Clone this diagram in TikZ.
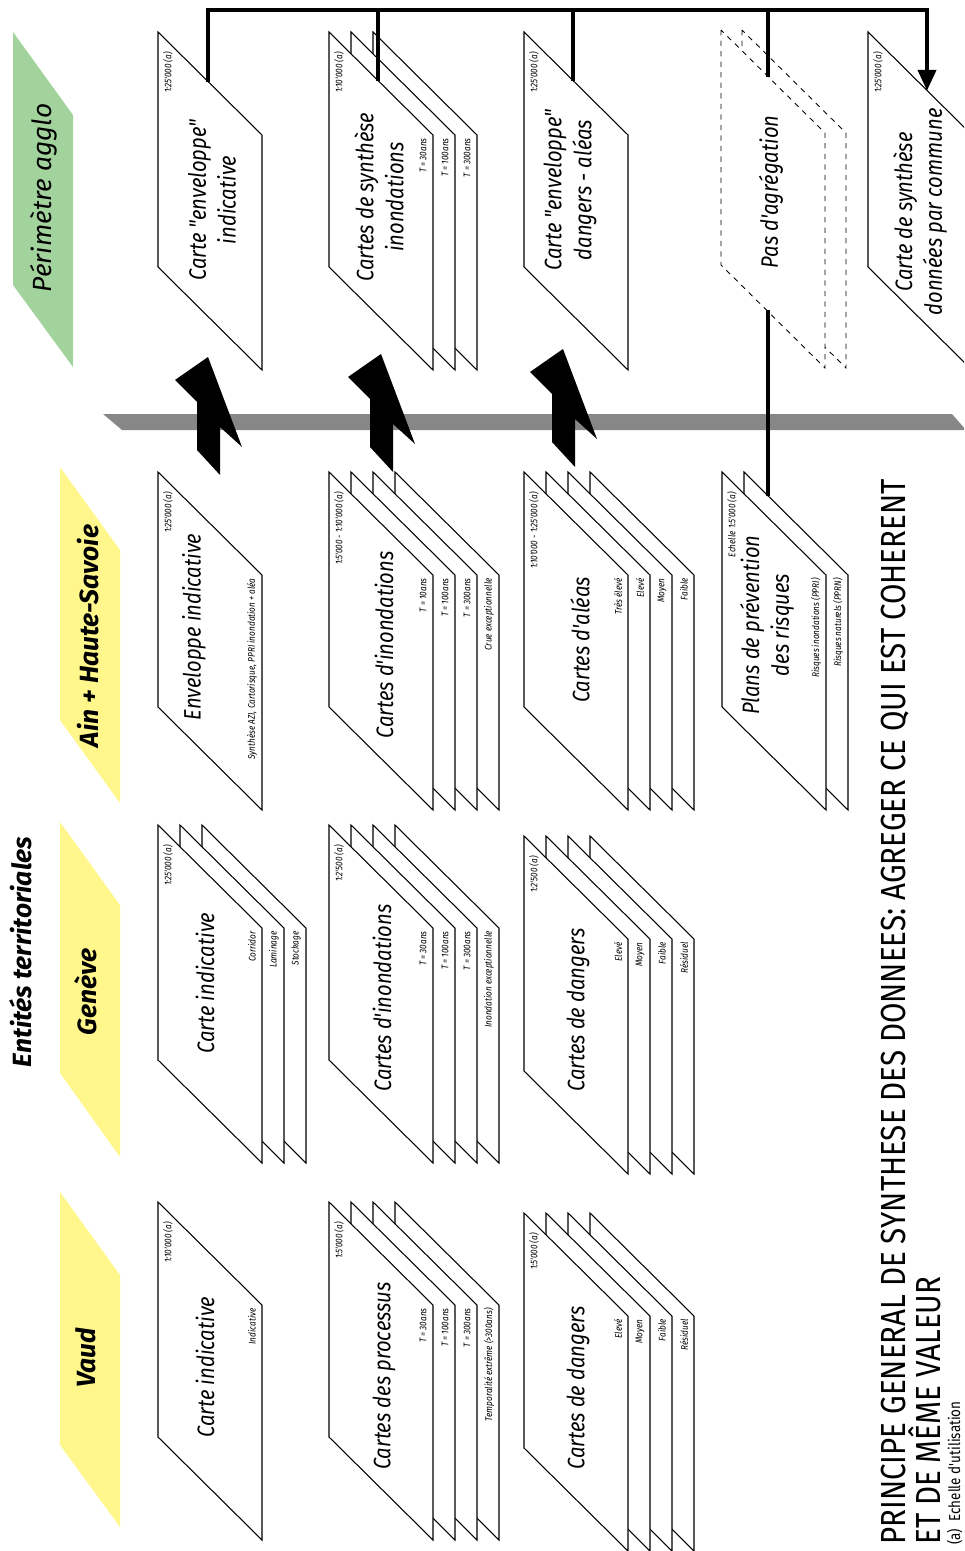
\documentclass[tikz,border=0pt]{standalone}
\usepackage{fontspec}
\setmainfont{Fira Sans}
\newfontfamily\etroit[FakeStretch=0.85]{Fira Sans}
\usetikzlibrary{arrows.meta}
\definecolor{jaune}{RGB}{255,247,140}
\definecolor{vert}{RGB}{163,211,156}
\definecolor{grisbande}{RGB}{135,135,135}

\begin{document}
\begin{tikzpicture}[x=0.02cm,y=-0.02cm,
        carte/.style={draw=black,fill=white,line width=0.6pt},
        cartepas/.style={draw=black,fill=white,line width=0.5pt,dashed},
        lien/.style={draw=black,line width=2.8pt},
        fleche/.style={fill=black,draw=none},
        titre/.style={rotate=90,align=center,inner sep=0pt,font=\etroit\itshape\fontsize{13.5}{17}\selectfont},
        echelle/.style={rotate=90,anchor=east,inner sep=0pt,font=\etroit\itshape\fontsize{5.5}{6}\selectfont},
        legende/.style={rotate=90,anchor=east,inner sep=0pt,font=\etroit\itshape\fontsize{5.5}{6}\selectfont},
        entete/.style={rotate=90,inner sep=0pt,font=\bfseries\itshape\fontsize{15}{18}\selectfont}]
        \useasboundingbox (0,0) rectangle (964,1551);
        \clip (0,0) rectangle (964,1551);

        % bandeaux
        \fill[vert] (13,32) -- (13,285) -- (73,367) -- (73,115) -- cycle;
        \fill[jaune] (60,467) -- (60,720) -- (120,803) -- (120,550) -- cycle;
        \fill[jaune] (60,822) -- (60,1073) -- (120,1157) -- (120,905) -- cycle;
        \fill[jaune] (60,1192) -- (60,1445) -- (120,1527) -- (120,1275) -- cycle;
        \node[entete,font=\itshape\fontsize{15}{18}\selectfont] (perim) at (44,198) {Périmètre agglo};
        \node[entete] (ain) at (88,636) {Ain + Haute-Savoie};
        \node[entete] (geneve) at (86,992) {Genève};
        \node[entete] (vaud) at (86,1358) {Vaud};
        \node[entete] (entites) at (21,952) {Entités territoriales};

        % perimetre agglo
        \draw[carte] (158,32) -- ++(0,235) -- ++(104,103) -- ++(0,-235) -- cycle;
        \draw[carte] (373,32) -- ++(0,235) -- ++(104,103) -- ++(0,-235) -- cycle;
        \draw[carte] (351,32) -- ++(0,235) -- ++(104,103) -- ++(0,-235) -- cycle;
        \draw[carte] (329,32) -- ++(0,235) -- ++(104,103) -- ++(0,-235) -- cycle;
        \draw[carte] (524,32) -- ++(0,235) -- ++(104,103) -- ++(0,-235) -- cycle;
        \draw[cartepas] (742,30) -- ++(0,235) -- ++(104,103) -- ++(0,-235) -- cycle;
        \draw[cartepas] (721,30) -- ++(0,235) -- ++(104,103) -- ++(0,-235) -- cycle;
        \draw[carte] (868,32) -- ++(0,235) -- ++(104,103) -- ++(0,-235) -- cycle;

        % ain + haute-savoie
        \draw[carte] (158,472) -- ++(0,235) -- ++(104,103) -- ++(0,-235) -- cycle;
        \draw[carte] (395,472) -- ++(0,235) -- ++(104,103) -- ++(0,-235) -- cycle;
        \draw[carte] (373,472) -- ++(0,235) -- ++(104,103) -- ++(0,-235) -- cycle;
        \draw[carte] (351,472) -- ++(0,235) -- ++(104,103) -- ++(0,-235) -- cycle;
        \draw[carte] (329,472) -- ++(0,235) -- ++(104,103) -- ++(0,-235) -- cycle;
        \draw[carte] (590,472) -- ++(0,235) -- ++(104,103) -- ++(0,-235) -- cycle;
        \draw[carte] (568,472) -- ++(0,235) -- ++(104,103) -- ++(0,-235) -- cycle;
        \draw[carte] (546,472) -- ++(0,235) -- ++(104,103) -- ++(0,-235) -- cycle;
        \draw[carte] (524,472) -- ++(0,235) -- ++(104,103) -- ++(0,-235) -- cycle;
        \draw[carte] (744,472) -- ++(0,235) -- ++(104,103) -- ++(0,-235) -- cycle;
        \draw[carte] (722,472) -- ++(0,235) -- ++(104,103) -- ++(0,-235) -- cycle;

        % geneve
        \draw[carte] (202,825) -- ++(0,235) -- ++(104,103) -- ++(0,-235) -- cycle;
        \draw[carte] (180,825) -- ++(0,235) -- ++(104,103) -- ++(0,-235) -- cycle;
        \draw[carte] (158,825) -- ++(0,235) -- ++(104,103) -- ++(0,-235) -- cycle;
        \draw[carte] (395,825) -- ++(0,235) -- ++(104,103) -- ++(0,-235) -- cycle;
        \draw[carte] (373,825) -- ++(0,235) -- ++(104,103) -- ++(0,-235) -- cycle;
        \draw[carte] (351,825) -- ++(0,235) -- ++(104,103) -- ++(0,-235) -- cycle;
        \draw[carte] (329,825) -- ++(0,235) -- ++(104,103) -- ++(0,-235) -- cycle;
        \draw[carte] (590,836) -- ++(0,235) -- ++(104,103) -- ++(0,-235) -- cycle;
        \draw[carte] (568,836) -- ++(0,235) -- ++(104,103) -- ++(0,-235) -- cycle;
        \draw[carte] (546,836) -- ++(0,235) -- ++(104,103) -- ++(0,-235) -- cycle;
        \draw[carte] (524,836) -- ++(0,235) -- ++(104,103) -- ++(0,-235) -- cycle;

        % vaud
        \draw[carte] (158,1202) -- ++(0,235) -- ++(104,103) -- ++(0,-235) -- cycle;
        \draw[carte] (395,1202) -- ++(0,235) -- ++(104,103) -- ++(0,-235) -- cycle;
        \draw[carte] (373,1202) -- ++(0,235) -- ++(104,103) -- ++(0,-235) -- cycle;
        \draw[carte] (351,1202) -- ++(0,235) -- ++(104,103) -- ++(0,-235) -- cycle;
        \draw[carte] (329,1202) -- ++(0,235) -- ++(104,103) -- ++(0,-235) -- cycle;
        \draw[carte] (590,1213) -- ++(0,235) -- ++(104,103) -- ++(0,-235) -- cycle;
        \draw[carte] (568,1213) -- ++(0,235) -- ++(104,103) -- ++(0,-235) -- cycle;
        \draw[carte] (546,1213) -- ++(0,235) -- ++(104,103) -- ++(0,-235) -- cycle;
        \draw[carte] (524,1213) -- ++(0,235) -- ++(104,103) -- ++(0,-235) -- cycle;

        % titres des cartes
        \node[titre] (p1) at (212,200) {Carte "enveloppe"\\indicative};
        \node[titre] (p2) at (379,197) {Cartes de synthèse\\inondations};
        \node[titre] (p3) at (570,190) {Carte "enveloppe"\\dangers - aléas};
        \node[titre] (p4) at (771,192) {Pas d'agrégation};
        \node[titre] (p5) at (920,212) {Carte de synthèse\\données par commune};
        \node[titre] (a1) at (194,627) {Enveloppe indicative};
        \node[titre] (a2) at (384,645) {Cartes d'inondations};
        \node[titre] (a3) at (580,640) {Cartes d'aléas};
        \node[titre] (a4) at (767,625) {Plans de prévention\\des risques};
        \node[titre] (g1) at (205,983) {Carte indicative};
        \node[titre] (g2) at (382,998) {Cartes d'inondations};
        \node[titre] (g3) at (578,1010) {Cartes de dangers};
        \node[titre] (v1) at (205,1367) {Carte indicative};
        \node[titre] (v2) at (384,1376) {Cartes des processus};
        \node[titre] (v3) at (578,1388) {Cartes de dangers};

        % echelles
        \node[echelle] (p1e) at (168,52) {1:25'000 (a)};
        \node[echelle] (p2e) at (339,52) {1:10'000 (a)};
        \node[echelle] (p3e) at (534,52) {1:25'000 (a)};
        \node[echelle] (p5e) at (878,52) {1:25'000 (a)};
        \node[echelle] (a1e) at (168,492) {1:25'000 (a)};
        \node[echelle] (a2e) at (339,492) {1:5'000 - 1:10'000 (a)};
        \node[echelle] (a3e) at (534,492) {1:10'000 - 1:25'000 (a)};
        \node[echelle] (a4e) at (732,492) {Echelle 1:5'000 (a)};
        \node[echelle] (g1e) at (168,845) {1:25'000 (a)};
        \node[echelle] (g2e) at (339,845) {1:2'500 (a)};
        \node[echelle] (g3e) at (534,856) {1:2'500 (a)};
        \node[echelle] (v1e) at (168,1222) {1:10'000 (a)};
        \node[echelle] (v2e) at (339,1222) {1:5'000 (a)};
        \node[echelle] (v3e) at (534,1233) {1:5'000 (a)};

        % legendes
        \node[legende] (p2a) at (423,138) {T = 30ans};
        \node[legende] (p2b) at (445,138) {T = 100ans};
        \node[legende] (p2c) at (467,138) {T = 300ans};
        \node[legende] (a1a) at (252,578) {Synthèse AZI, Cartorisque, PPRI inondation + aléa};
        \node[legende] (a2a) at (423,578) {T = 10ans};
        \node[legende] (a2b) at (445,578) {T = 100ans};
        \node[legende] (a2c) at (467,578) {T = 300ans};
        \node[legende] (a2d) at (489,578) {Crue exceptionnelle};
        \node[legende] (a3a) at (618,578) {Très élevé};
        \node[legende] (a3b) at (640,578) {Elevé};
        \node[legende] (a3c) at (662,578) {Moyen};
        \node[legende] (a3d) at (684,578) {Faible};
        \node[legende] (a4a) at (816,578) {Risques inondations (PPRI)};
        \node[legende] (a4b) at (838,578) {Risques naturels (PPRN)};
        \node[legende] (g1a) at (252,931) {Corridor};
        \node[legende] (g1b) at (274,931) {Laminage};
        \node[legende] (g1c) at (296,931) {Stockage};
        \node[legende] (g2a) at (423,931) {T = 30ans};
        \node[legende] (g2b) at (445,931) {T = 100ans};
        \node[legende] (g2c) at (467,931) {T = 300ans};
        \node[legende] (g2d) at (489,931) {Inondation exceptionnelle};
        \node[legende] (g3a) at (618,942) {Elevé};
        \node[legende] (g3b) at (640,942) {Moyen};
        \node[legende] (g3c) at (662,942) {Faible};
        \node[legende] (g3d) at (684,942) {Résiduel};
        \node[legende] (v1a) at (252,1308) {Indicative};
        \node[legende] (v2a) at (423,1308) {T = 30ans};
        \node[legende] (v2b) at (445,1308) {T = 100ans};
        \node[legende] (v2c) at (467,1308) {T = 300ans};
        \node[legende] (v2d) at (489,1308) {Temporalité extrême (>300ans)};
        \node[legende] (v3a) at (618,1319) {Elevé};
        \node[legende] (v3b) at (640,1319) {Moyen};
        \node[legende] (v3c) at (662,1319) {Faible};
        \node[legende] (v3d) at (684,1319) {Résiduel};

        % separation et fleches
        \fill[grisbande] (103,414) -- (952,414) -- (966,430) -- (122,430) -- cycle;
        \fill[fleche] (175,380) -- (208,357) -- (242,447) -- (220,427) -- (220,475) -- (197,450) -- (197,402) -- cycle;
        \fill[fleche] (348,377) -- (381,354) -- (415,444) -- (393,424) -- (393,472) -- (370,447) -- (370,399) -- cycle;
        \fill[fleche] (530,372) -- (563,349) -- (597,439) -- (575,419) -- (575,467) -- (552,442) -- (552,394) -- cycle;

        % liens
        \coordinate (b1) at (208,10);
        \coordinate (b2) at (378,10);
        \coordinate (b3) at (573,10);
        \coordinate (b4) at (768,10);
        \coordinate (b5) at (927,10);
        \coordinate (p1h) at (208,82);
        \coordinate (p2h) at (378,81);
        \coordinate (p3h) at (573,81);
        \coordinate (p4h) at (768,77);
        \coordinate (p4b) at (768,310);
        \coordinate (a4h) at (768,496);
        \coordinate (p5h) at (927,91);
        \draw[lien,-{Triangle[width=10pt,length=12pt]}] (p1h) -- (b1) -- (b5) -- (p5h);
        \draw[lien] (p2h) -- (b2);
        \draw[lien] (p3h) -- (b3);
        \draw[lien] (p4h) -- (b4);
        \draw[lien] (a4h) -- (p4b);

        % titre general
        \node[rotate=90,anchor=base west,inner sep=0pt,font=\etroit\fontsize{19.8}{23}\selectfont] (t1) at (905,1545) {PRINCIPE GENERAL DE SYNTHESE DES DONNEES: AGREGER CE QUI EST COHERENT};
        \node[rotate=90,anchor=base west,inner sep=0pt,font=\etroit\fontsize{19.8}{23}\selectfont] (t2) at (940,1545) {ET DE MÊME VALEUR};
        \node[rotate=90,anchor=base west,inner sep=0pt,font=\etroit\fontsize{9}{11}\selectfont] (t3) at (960,1545) {(a)~~Echelle d'utilisation};
\end{tikzpicture}
\end{document}
